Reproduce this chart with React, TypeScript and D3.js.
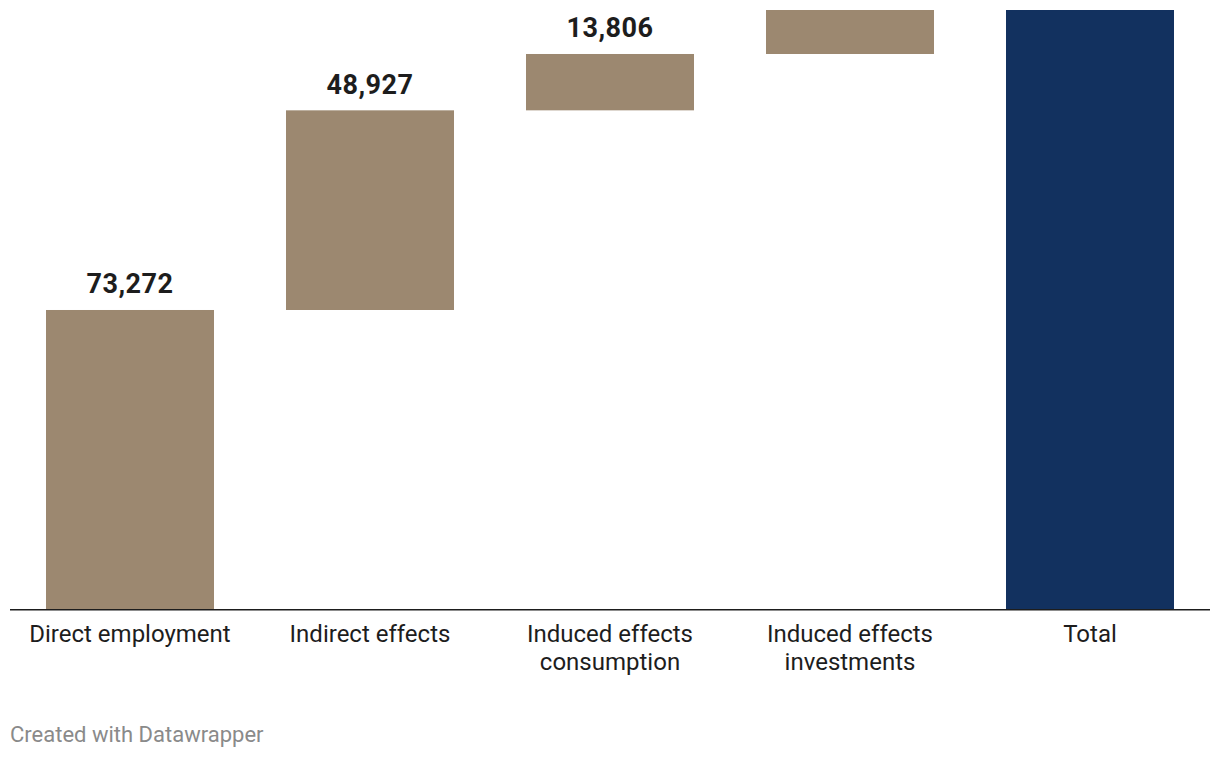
import * as d3 from "d3";

const categories = [
  ["Direct employment"],
  ["Indirect effects"],
  ["Induced effects", "consumption"],
  ["Induced effects", "investments"],
  ["Total"],
];
const increments = [73272, 48927, 13806, 10780];

const W = 1220;
const H = 758;
const margin = { top: 10, right: 10, bottom: 149, left: 10 };

export default function App() {
  const total = d3.sum(increments);
  const keys = categories.map((c) => c.join(" "));

  const x = d3
    .scaleBand()
    .domain(keys)
    .range([margin.left, W - margin.right])
    .paddingInner(0.3)
    .paddingOuter(0.15);

  const y = d3
    .scaleLinear()
    .domain([0, total])
    .range([H - margin.bottom, margin.top]);

  // running totals for the waterfall
  const bars: { key: string; start: number; end: number; total: boolean }[] = [];
  let acc = 0;
  increments.forEach((v, i) => {
    bars.push({ key: keys[i], start: acc, end: acc + v, total: false });
    acc += v;
  });
  bars.push({ key: keys[keys.length - 1], start: 0, end: total, total: true });

  const fmt = d3.format(",");
  const base = y(0);
  // labels that would sit above the chart top are not drawn (as in the original)
  const labelled = bars.filter((b) => y(b.end) - 16.5 > 26);

  return (
    <svg
      width={W}
      height={H}
      style={{ position: "absolute", left: 0, top: 0, fontFamily: "Roboto, sans-serif" }}
    >
      <rect width={W} height={H} fill="#fff" />
      {bars.map((b) => (
        <rect
          key={b.key}
          x={x(b.key)}
          width={x.bandwidth()}
          y={y(b.end)}
          height={y(b.start) - y(b.end)}
          fill={b.total ? "#12315f" : "#9c8870"}
        />
      ))}
      {labelled.map((b) => (
        <text
          key={"v" + b.key}
          x={(x(b.key) || 0) + x.bandwidth() / 2}
          y={y(b.end) - 16.5}
          textAnchor="middle"
          fontSize={27}
          fontWeight={700}
          letterSpacing={0.5}
          fill="#1d1d1d"
        >
          {fmt(b.end - b.start)}
        </text>
      ))}
      <line
        x1={margin.left}
        x2={W - margin.right}
        y1={base + 0.75}
        y2={base + 0.75}
        stroke="#1d1d1d"
        strokeWidth={1.6}
      />
      {categories.map((lines, i) => (
        <text
          key={"c" + i}
          x={(x(keys[i]) || 0) + x.bandwidth() / 2}
          y={base + 33}
          textAnchor="middle"
          fontSize={24}
          fill="#1d1d1d"
        >
          {lines.map((l, j) => (
            <tspan key={j} x={(x(keys[i]) || 0) + x.bandwidth() / 2} dy={j === 0 ? 0 : 28}>
              {l}
            </tspan>
          ))}
        </text>
      ))}
      <text x={10} y={742} fontSize={22} fill="#8a8a8a">
        Created with Datawrapper
      </text>
    </svg>
  );
}
